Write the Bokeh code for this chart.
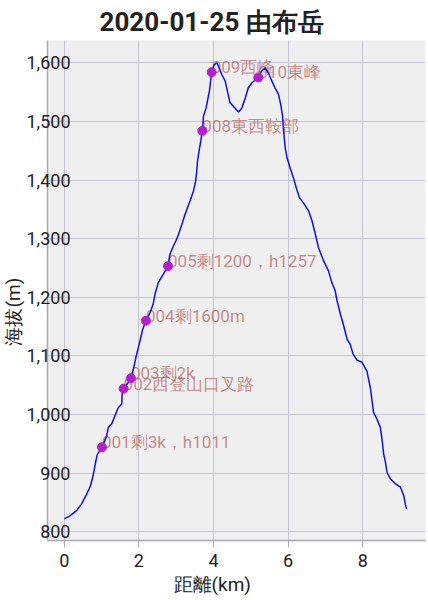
from bokeh.plotting import figure
from bokeh.models import Range1d, NumeralTickFormatter, FixedTicker, Title, ColumnDataSource
from bokeh.core.properties import value
from bokeh.embed import file_html
from bokeh.resources import INLINE

# track: distance (km) and elevation (m)
dist_km = [0.0, 0.15, 0.33, 0.46, 0.60, 0.70, 0.77, 0.82, 0.88, 1.01, 1.13, 1.18, 1.27, 1.36, 1.44,
           1.54, 1.55, 1.59, 1.71, 1.785, 1.85, 1.94, 2.03, 2.10, 2.19, 2.30, 2.38, 2.43, 2.52, 2.65,
           2.78, 2.83, 2.92, 2.99, 3.06, 3.15, 3.24, 3.37, 3.46, 3.52, 3.55, 3.57, 3.61, 3.66, 3.70,
           3.73, 3.80, 3.89, 3.95, 4.01, 4.09, 4.15, 4.22, 4.31, 4.37, 4.44, 4.53, 4.67, 4.76, 4.85,
           4.93, 5.03, 5.20, 5.29, 5.38, 5.47, 5.56, 5.65, 5.74, 5.80, 5.85, 5.87, 5.92, 5.97, 6.05,
           6.14, 6.23, 6.30, 6.41, 6.55, 6.64, 6.73, 6.81, 6.95, 7.08, 7.17, 7.26, 7.31, 7.40, 7.49,
           7.58, 7.66, 7.74, 7.84, 7.98, 8.11, 8.20, 8.29, 8.38, 8.47, 8.52, 8.56, 8.60, 8.65, 8.74,
           8.87, 9.01, 9.10, 9.14, 9.17]
elev_m = [822, 827, 836, 847, 864, 878, 895, 912, 931, 944, 962, 978, 984, 998, 1011,
          1018, 1035, 1044, 1054, 1062, 1077, 1103, 1126, 1145, 1160, 1174, 1188, 1205, 1225, 1239,
          1253, 1273, 1287, 1296, 1307, 1324, 1342, 1364, 1381, 1398, 1415, 1432, 1449, 1467, 1484,
          1509, 1523, 1552, 1584, 1596, 1600, 1591, 1580, 1569, 1552, 1532, 1526, 1516, 1523, 1540,
          1557, 1566, 1575, 1586, 1591, 1583, 1569, 1557, 1546, 1529, 1509, 1489, 1455, 1438, 1421,
          1404, 1384, 1370, 1361, 1347, 1330, 1307, 1285, 1262, 1245, 1225, 1211, 1194, 1171, 1151,
          1128, 1120, 1103, 1093, 1089, 1074, 1046, 1003, 992, 978, 955, 932, 921, 901, 890,
          882, 876, 861, 847, 839]

# waypoints
wp_km = [1.01, 1.59, 1.785, 2.19, 2.78, 3.70, 3.95, 5.20]
wp_elev = [944, 1044, 1062, 1160, 1253, 1484, 1584, 1575]
wp_names = ["001剩3k，h1011", "002西登山口叉路", "003剩2k", "004剩1600m",
            "005剩1200，h1257", "008東西鞍部", "009西峰", "010東峰"]

x_ticks = [0, 2, 4, 6, 8]
y_ticks = [800, 900, 1000, 1100, 1200, 1300, 1400, 1500, 1600]

p = figure(width=428, height=600, output_backend="svg", toolbar_location=None,
           x_range=Range1d(-0.45, 9.68), y_range=Range1d(785, 1638),
           min_border_left=47, min_border_right=3, min_border_top=39, min_border_bottom=60)

p.background_fill_color = "#efefef"
p.border_fill_color = "white"
p.outline_line_color = None

p.title.text = "2020-01-25 由布岳"
p.title.text_font = "Roboto"
p.title.text_font_size = "26px"
p.title.text_font_style = "bold"
p.title.text_color = "#222222"
p.title.align = "left"
p.title.offset = 52
p.title.standoff = 8

# axes
for ax in (p.xaxis[0], p.yaxis[0]):
    ax.axis_line_color = "#a8a8b4"
    ax.axis_line_width = 1.5
    ax.major_label_text_font = "Roboto"
    ax.major_label_text_font_size = "18px"
    ax.major_label_text_color = "#222222"
    ax.minor_tick_line_color = None
    ax.major_tick_line_color = "#a8a8b4"

p.xaxis.ticker = FixedTicker(ticks=x_ticks)
p.xaxis.major_tick_out = 7
p.xaxis.major_tick_in = 0
p.xaxis.major_label_standoff = 6

p.yaxis.ticker = FixedTicker(ticks=y_ticks)
p.yaxis.formatter = NumeralTickFormatter(format="0,0")
p.yaxis.major_tick_out = 0
p.yaxis.major_tick_in = 0
p.yaxis.major_label_standoff = -23

xlab = Title(text="距離(km)", align="left", offset=126, text_font="Roboto",
             text_font_size="19px", text_font_style="normal", text_color="#222222", standoff=2)
p.add_layout(xlab, "below")
ylab = Title(text="海拔(m)", align="left", offset=195, text_font="Roboto",
             text_font_size="19px", text_font_style="normal", text_color="#222222", standoff=-3)
p.add_layout(ylab, "left")

p.xgrid.ticker = FixedTicker(ticks=x_ticks)
p.ygrid.ticker = FixedTicker(ticks=y_ticks)
p.grid.grid_line_color = "#c4c4d6"
p.grid.grid_line_width = 1

wp = ColumnDataSource(dict(x=wp_km, y=wp_elev, name=wp_names))

p.text(x="x", y="y", text="name", source=wp, text_font=value("Roboto"),
       text_font_size=value("17px"), text_baseline="middle", text_align="left",
       x_offset=0, y_offset=-5, text_color="#b05858", text_alpha=0.68)
p.line(dist_km, elev_m, line_color="#1010e0", line_width=1.5)
p.scatter(x="x", y="y", source=wp, size=9, fill_color="#b31fc9", line_color="#b31fc9")

open("out.html", "w").write(file_html(p, INLINE))
